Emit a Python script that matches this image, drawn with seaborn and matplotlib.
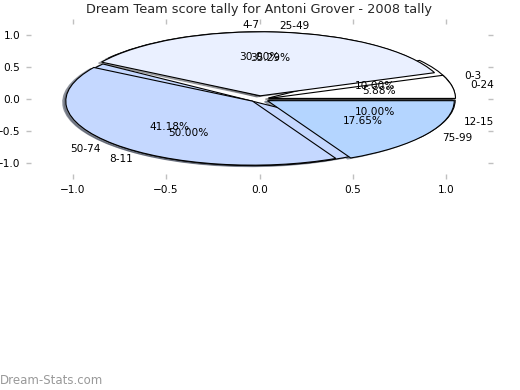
import matplotlib
matplotlib.use("Agg")
import matplotlib.pyplot as plt
import seaborn as sns

sns.set_theme(style="white")
plt.rcParams['font.family'] = ['DejaVu Sans']

title = "Dream Team score tally for Antoni Grover - 2008 tally"
labels_a = ["0-3", "4-7", "8-11", "12-15"]
values_a = [1, 3, 5, 1]
labels_b = ["0-24", "25-49", "50-74", "75-99"]
values_b = [1, 6, 7, 3]
colors = ["#ffffff", "#eaf0ff", "#c5d8ff", "#b4d5ff"]

fig = plt.figure(figsize=(5.2, 3.9), dpi=100)
ax = fig.add_axes([26/520, 1 - 179/390, 467/520, 160/390])

common = dict(colors=colors, autopct="%.2f%%", startangle=0,
              shadow=dict(ox=-0.012, oy=-0.012, shade=0.6),
              explode=[0.05] * 4, frame=True,
              wedgeprops=dict(edgecolor="black", linewidth=0.8),
              textprops=dict(fontsize=7.6, color="black"))
wa, ta, pa = ax.pie(values_a, labels=labels_a, **common)
wb, tb, pb = ax.pie(values_b, labels=labels_b, **common)
ta[1].set_ha("right")

ax.set_xlim(-1.25, 1.25)
ax.set_ylim(-1.25, 1.25)
ax.set_aspect("auto")
ax.set_xticks([-1.0, -0.5, 0.0, 0.5, 1.0])
ax.set_yticks([-1.0, -0.5, 0.0, 0.5, 1.0])
for s in ax.spines.values():
    s.set_visible(False)
ax.tick_params(direction="in", length=3.5, width=1, color="#c0c0c0",
               top=True, right=True, bottom=True, left=True,
               labelsize=7.6, labelcolor="black", pad=4)
ax.set_title(title, fontsize=9.3, pad=4)
fig.text(0.0, 10/390, "Dream-Stats.com", fontsize=8.5, color="#999999",
         ha="left", va="center")
fig.savefig("out.png", dpi=100)
